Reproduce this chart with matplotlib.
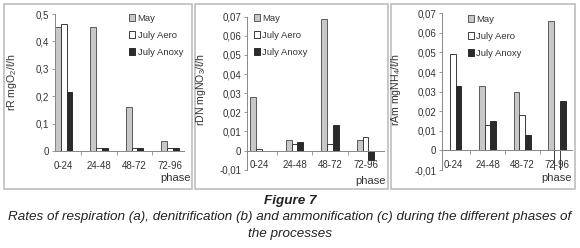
import matplotlib
matplotlib.use('Agg')
import matplotlib.pyplot as plt
import matplotlib.ticker as ticker
from matplotlib.patches import Rectangle
import numpy as np

plt.rcParams.update({
    'font.family': ['Liberation Sans', 'DejaVu Sans'],
    'font.size': 6.8,
    'mathtext.fontset': 'custom',
    'mathtext.rm': 'Liberation Sans',
    'mathtext.it': 'Liberation Sans:italic',
})

phases = ['0-24', '24-48', '48-72', '72-96']
series_names = ['May', 'July Aero', 'July Anoxy']

resp_may = [0.452, 0.452, 0.162, 0.038]
resp_aero = [0.463, 0.012, 0.012, 0.012]
resp_anoxy = [0.216, 0.012, 0.012, 0.012]

denit_may = [0.028, 0.0056, 0.069, 0.0056]
denit_aero = [0.001, 0.0033, 0.0033, 0.0073]
denit_anoxy = [0.0, 0.0044, 0.0134, -0.0049]

ammon_may = [0.0, 0.033, 0.030, 0.066]
ammon_aero = [0.049, 0.013, 0.018, -0.0098]
ammon_anoxy = [0.033, 0.015, 0.008, 0.025]

FILL = ['#c8c8c8', '#ffffff', '#2b2b2b']
EDGE = ['#5a5a5a', '#3a3a3a', '#2b2b2b']
W, H = 580, 248


def frac(x0, y_top, x1, y_bot):
    return [x0 / W, 1 - y_bot / H, (x1 - x0) / W, (y_bot - y_top) / H]


def comma_fmt(v, _):
    v = round(v, 4)
    if v == 0:
        return '0'
    return f'{v:g}'.replace('.', ',')


fig = plt.figure(figsize=(W / 100, H / 100), dpi=100)

panels = [
    # box, xlim, ylim, yticks, ylabel, ylabel pos, legend pos, phase pos, data
    (frac(55, 14, 184, 151), (-0.245, 3.4), (0, 0.5), np.arange(0, 0.51, 0.1),
     'rR mgO$_2$/ℓ/h', (12, 82), (129, 14), (191, 178),
     [resp_may, resp_aero, resp_anoxy]),
    (frac(247, 16.7, 384, 169.7), (-0.34, 3.52), (-0.01, 0.07), np.arange(-0.01, 0.071, 0.01),
     'rDN mgNO$_3$/ℓ/h', (201, 90), (254, 14), (386, 181),
     [denit_may, denit_aero, denit_anoxy]),
    (frac(441.7, 13.3, 572, 170), (-0.32, 3.43), (-0.01, 0.07), np.arange(-0.01, 0.071, 0.01),
     'rAm mgNH$_4$/ℓ/h', (396, 90), (468, 15), (572, 178),
     [ammon_may, ammon_aero, ammon_anoxy]),
]

bw = 0.165
x = np.arange(len(phases))
for box, xlim, ylim, yticks, ylab, ylab_pos, leg_pos, ph_pos, data in panels:
    ax = fig.add_axes(box)
    handles = []
    for k, vals in enumerate(data):
        b = ax.bar(x + (k - 1) * bw, vals, width=bw, color=FILL[k],
                   edgecolor=EDGE[k], linewidth=0.7, label=series_names[k])
        handles.append(b)
    ax.set_xlim(*xlim)
    ax.set_ylim(*ylim)
    ax.set_yticks(yticks)
    ax.yaxis.set_major_formatter(ticker.FuncFormatter(comma_fmt))
    ax.set_xticks(x)
    ax.set_xticklabels(phases)
    ax.set_xticks(x[:-1] + 0.5, minor=True)
    ax.tick_params(axis='x', which='major', length=0, pad=7, colors='#333333',
                   labelsize=7)
    ax.tick_params(axis='x', which='minor', length=3, width=0.6, color='#888888')
    ax.tick_params(axis='y', length=2.5, width=0.6, pad=1.5, color='#888888',
                   labelcolor='#333333', labelsize=7)
    ax.spines['top'].set_visible(False)
    ax.spines['right'].set_visible(False)
    ax.spines['bottom'].set_position(('data', 0))
    for s in ('left', 'bottom'):
        ax.spines[s].set_color('#888888')
        ax.spines[s].set_linewidth(0.7)
    ax.patch.set_visible(False)

    fig.text(ylab_pos[0] / W, 1 - ylab_pos[1] / H, ylab, rotation=90,
             ha='center', va='center', color='#333333', fontsize=7.6)
    fig.text(ph_pos[0] / W, 1 - ph_pos[1] / H, 'phase', ha='right', va='center',
             color='#333333', fontsize=8)
    fig.legend(handles=handles, loc='upper left',
               bbox_to_anchor=(leg_pos[0] / W, 1 - leg_pos[1] / H),
               bbox_transform=fig.transFigure, frameon=False, borderpad=0,
               borderaxespad=0, handlelength=0.6, handleheight=0.7,
               handletextpad=0.3, labelspacing=0.85, fontsize=6.8,
               labelcolor='#333333')

# panel frames
for x0, x1 in [(3.5, 192), (195, 388), (391, 575)]:
    fig.add_artist(Rectangle((x0 / W, 1 - 189 / H), (x1 - x0) / W, (189 - 4) / H,
                             transform=fig.transFigure, fill=False,
                             edgecolor='#bdbdbd', linewidth=1.2))

cap = dict(ha='center', va='center', fontsize=9.7, style='italic', color='#222222')
fig.text(0.5, 1 - 201 / H, 'Figure 7', fontweight='bold', **cap)
fig.text(0.5, 1 - 217 / H,
         'Rates of respiration (a), denitrification (b) and ammonification (c) '
         'during the different phases of', **cap)
fig.text(0.5, 1 - 234 / H, 'the processes', **cap)

fig.savefig('out.png', dpi=100)
